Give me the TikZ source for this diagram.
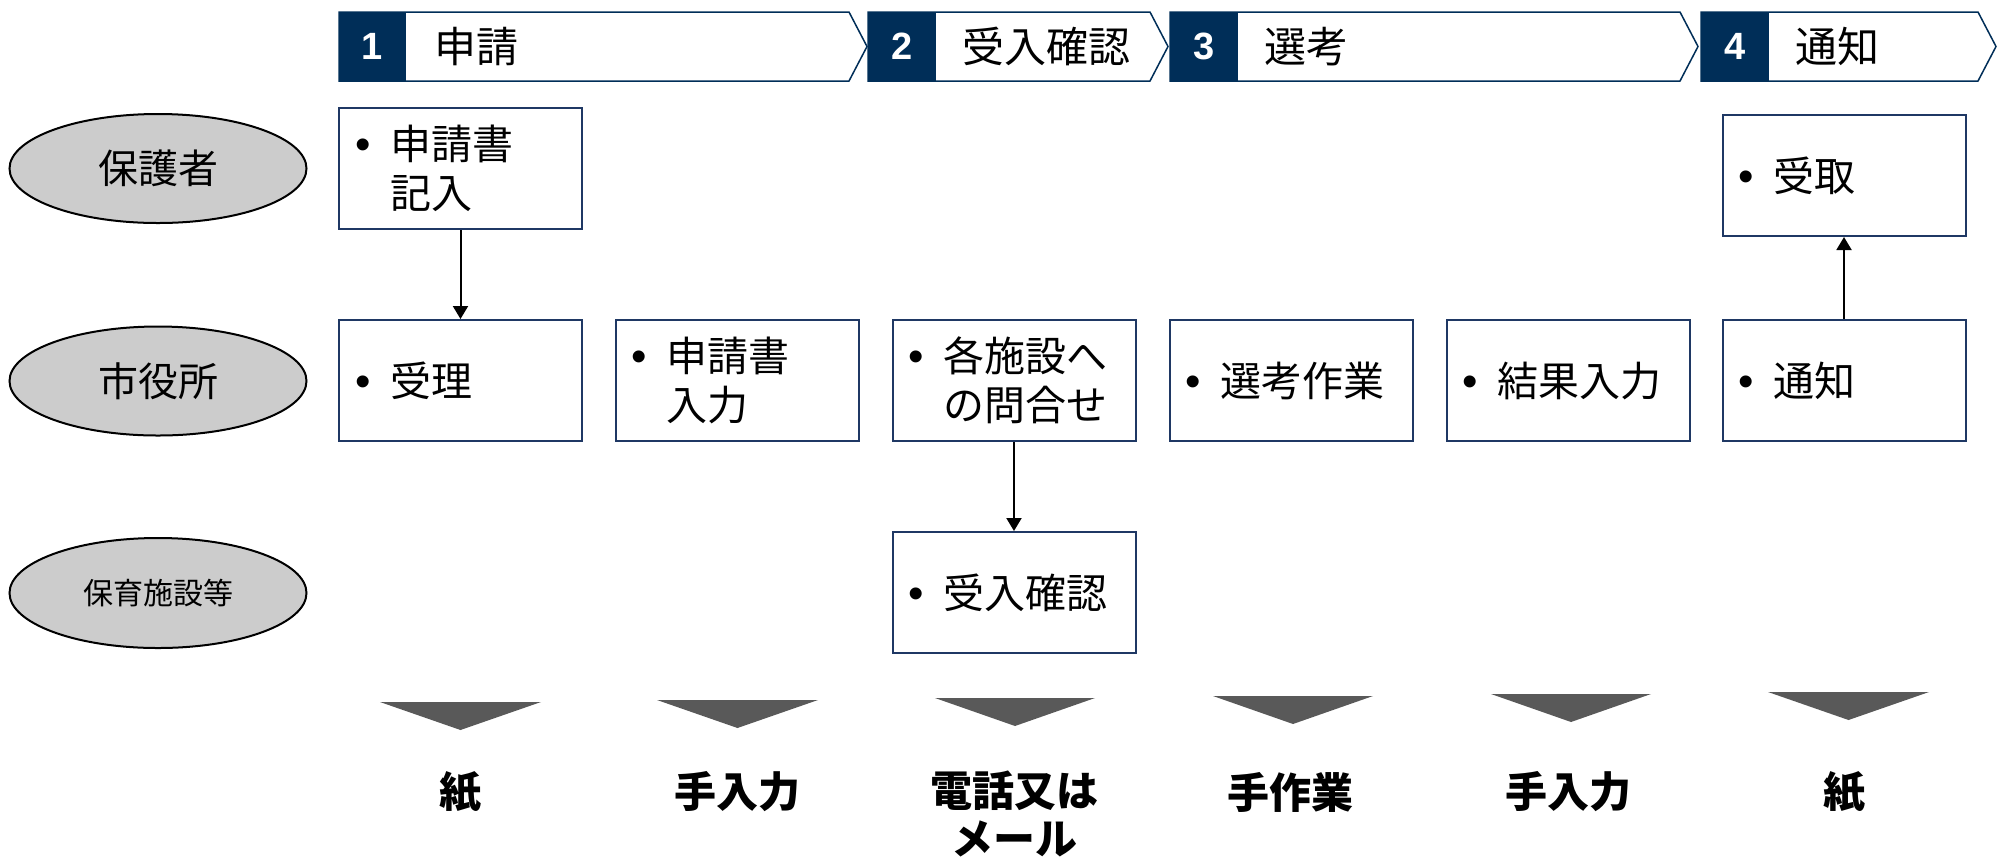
\documentclass[tikz,border=0pt]{standalone}
\usepackage{fontspec}
\setmainfont{Noto Sans CJK JP}
\newfontfamily\numfont{Liberation Sans}
\usetikzlibrary{arrows.meta,shapes.geometric}
\definecolor{navy}{RGB}{0,46,88}
\definecolor{boxline}{RGB}{31,56,100}
\definecolor{trigray}{RGB}{89,89,89}
\tikzset{
  chev/.style={draw=navy,line width=0.75pt,fill=white},
  numsq/.style={fill=navy},
  num/.style={text=white,font=\numfont\bfseries\fontsize{19}{22}\selectfont,inner sep=0pt},
  hd/.style={font=\fontsize{21}{24}\selectfont,anchor=west,inner sep=0pt},
  actor/.style={ellipse,draw=black,line width=1pt,fill=black!20,minimum width=148.5pt,minimum height=54.5pt,inner sep=0pt},
  actortxt/.style={font=\fontsize{20}{24}\selectfont},
  task/.style={draw=boxline,line width=1pt,minimum width=121.5pt,minimum height=60.5pt,text width=105.5pt,inner xsep=8pt,align=left,font=\fontsize{20.5}{24.5}\selectfont},
  arr/.style={line width=1pt,-{Triangle[length=6.5pt,width=7.5pt]}},
  tri/.style={fill=trigray},
  media/.style={font=\bfseries\fontsize{21}{24}\selectfont,align=center,inner sep=0pt}
}
\newcommand{\bul}{\makebox[17.5pt][l]{\numfont\fontsize{22}{24.5}\selectfont•}}
\newcommand{\ind}{\hspace*{17.5pt}}
\begin{document}
\begin{tikzpicture}[x=0.5pt,y=-0.5pt]
\useasboundingbox (0,0) rectangle (1997,858);
% header chevrons
\draw[chev] (339,12) -- (849,12) -- (867,46.5) -- (849,81) -- (339,81) -- cycle;
\fill[numsq] (339,12) rectangle (406,81);
\node[num] (n1) at (372.5,46.5) {1};
\node[hd] (h1) at (434,46.5) {申請};
\draw[chev] (868,12) -- (1150,12) -- (1168,46.5) -- (1150,81) -- (868,81) -- cycle;
\fill[numsq] (868,12) rectangle (936,81);
\node[num] (n2) at (902,46.5) {2};
\node[hd] (h2) at (962,46.5) {受入確認};
\draw[chev] (1170,12) -- (1680,12) -- (1698,46.5) -- (1680,81) -- (1170,81) -- cycle;
\fill[numsq] (1170,12) rectangle (1238,81);
\node[num] (n3) at (1204,46.5) {3};
\node[hd] (h3) at (1264,46.5) {選考};
\draw[chev] (1701,12) -- (1978,12) -- (1996,46.5) -- (1978,81) -- (1701,81) -- cycle;
\fill[numsq] (1701,12) rectangle (1769,81);
\node[num] (n4) at (1735,46.5) {4};
\node[hd] (h4) at (1795,46.5) {通知};
% actors
\node[actor] (a1) at (158,168.5) {};
\node[actortxt] (a1t) at (a1) {保護者};
\node[actor] (a2) at (158,381) {};
\node[actortxt] (a2t) at (a2) {市役所};
\node[actor,minimum height=55pt] (a3) at (158,593) {};
\node[actortxt,font=\fontsize{15}{18}\selectfont] (a3t) at (a3) {保育施設等};
% tasks
\node[task] (b11) at (460.5,168.5) {\bul 申請書\\\ind 記入};
\node[task] (b16) at (1844,175.5) {\bul 受取};
\node[task] (b21) at (460.5,380.5) {\bul 受理};
\node[task] (b22) at (737,380.5) {\bul 申請書\\\ind 入力};
\node[task] (b23) at (1014,380.5) {\bul 各施設へ\\\ind の問合せ};
\node[task] (b24) at (1291,380.5) {\bul 選考作業};
\node[task] (b25) at (1568,380.5) {\bul 結果入力};
\node[task] (b26) at (1844,380.5) {\bul 通知};
\node[task] (b33) at (1014,592.5) {\bul 受入確認};
% arrows
\draw[arr] (b11.south) -- (b21.north);
\draw[arr] (b23.south) -- (b33.north);
\draw[arr] (b26.north) -- (b16.south);
% triangles
\fill[tri] (380,702) -- (541,702) -- (460.5,730) -- cycle;
\fill[tri] (657,700) -- (818,700) -- (737.5,728) -- cycle;
\fill[tri] (935,698) -- (1095,698) -- (1015,726) -- cycle;
\fill[tri] (1213,696) -- (1373,696) -- (1293,724) -- cycle;
\fill[tri] (1491,694) -- (1651,694) -- (1571,722) -- cycle;
\fill[tri] (1768,692) -- (1929,692) -- (1848.5,720) -- cycle;
% media labels
\node[media] (m1) at (460.5,792) {紙};
\node[media] (m2) at (737,792) {手入力};
\node[media,anchor=north] (m3) at (1014,770) {電話又は\\メール};
\node[media] (m4) at (1290,792) {手作業};
\node[media] (m5) at (1568,792) {手入力};
\node[media] (m6) at (1844,792) {紙};
\end{tikzpicture}
\end{document}
